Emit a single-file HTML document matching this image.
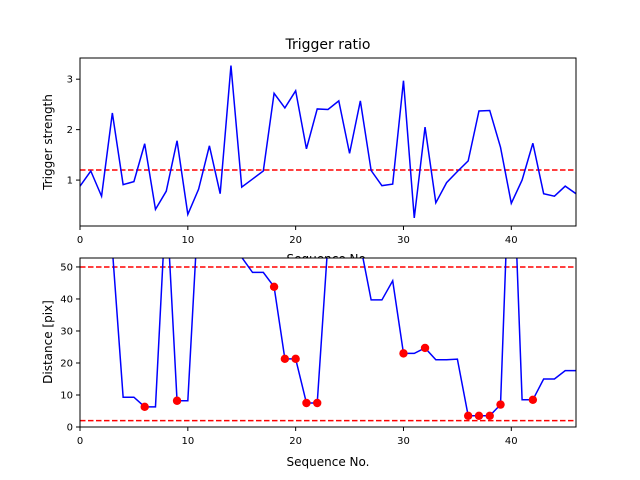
<!DOCTYPE html>
<html><head><meta charset="utf-8"><style>body{margin:0;background:#fff}svg{display:block;font-family:"DejaVu Sans","Liberation Sans",sans-serif}</style></head>
<body>
<svg id="c" width="640" height="480"></svg>
<script>
const seq = Array.from({length:47},(_,i)=>i);
const strength = [0.88,1.18,0.68,2.33,0.91,0.97,1.72,0.42,0.78,1.78,0.32,0.82,1.68,0.73,3.27,0.86,1.02,1.18,2.72,2.43,2.77,1.62,2.41,2.40,2.57,1.53,2.57,1.19,0.89,0.92,2.97,0.25,2.05,0.55,0.95,1.17,1.38,2.37,2.38,1.65,0.54,1.00,1.73,0.73,0.68,0.88,0.73];
const strengthThreshold = 1.2;
const distance = [80,80,80,55.6,9.3,9.3,6.3,6.3,72,8.2,8.2,70,100,100,100,53,48.3,48.3,43.8,21.3,21.3,7.5,7.5,58,80,80,57,39.7,39.7,45.7,23,23,24.7,21,21,21.2,3.5,3.5,3.5,7,100,8.5,8.5,15,15,17.6,17.6];
const markedIdx = [6,9,18,19,20,21,22,30,32,36,37,38,39,42];
const distLines = [50,2];
const xTicks = [0,10,20,30,40];
const topYTicks = [1,2,3];
const botYTicks = [0,10,20,30,40,50];

const NS="http://www.w3.org/2000/svg", svg=document.getElementById('c');
function el(t,a,p){const e=document.createElementNS(NS,t);for(const k in a)e.setAttribute(k,a[k]);(p||svg).appendChild(e);return e;}
const L=80,R=576;
const xs=v=>L+(v-0)/46*(R-L);
function panel(top,bot,ymin,ymax,name){
  const ys=v=>bot-(v-ymin)/(ymax-ymin)*(bot-top);
  const g=el('g',{});
  el('rect',{x:L,y:top,width:R-L,height:bot-top,fill:'#fff'},g);
  const cid='clip'+name;const cp=el('clipPath',{id:cid},g);el('rect',{x:L,y:top,width:R-L,height:bot-top},cp);
  const inner=el('g',{'clip-path':'url(#'+cid+')'},g);
  return {g,inner,ys,top,bot};
}
function axes(p,yt,name){
  const f=el('rect',{x:L,y:p.top,width:R-L,height:p.bot-p.top,fill:'none',stroke:'#000','stroke-width':1},p.g);
  
  xTicks.forEach(t=>{const x=xs(t);el('line',{x1:x,x2:x,y1:p.bot,y2:p.bot+4,stroke:'#000'},p.g);
    const tx=el('text',{x:x,y:p.bot+17,'font-size':10,'text-anchor':'middle'},p.g);tx.textContent=t;
    });
  yt.forEach(t=>{const y=p.ys(t);el('line',{x1:L-4,x2:L,y1:y,y2:y,stroke:'#000'},p.g);
    const tx=el('text',{x:L-7,y:y+3.5,'font-size':10,'text-anchor':'end'},p.g);tx.textContent=t;
    });
}
// top
const T=panel(58,226,0.09,3.42,'top-panel');
let hl=el('line',{x1:L,x2:R,y1:T.ys(strengthThreshold),y2:T.ys(strengthThreshold),stroke:'#f00','stroke-width':1.5,'stroke-dasharray':'5.5,2.5'},T.inner);

let pl=el('polyline',{points:seq.map((s,i)=>xs(s)+','+T.ys(strength[i])).join(' '),fill:'none',stroke:'#00f','stroke-width':1.5},T.inner);

axes(T,topYTicks,'top');
let t=el('text',{x:328,y:49,'font-size':14,'text-anchor':'middle'});t.textContent='Trigger ratio';

t=el('text',{x:52,y:142,'font-size':12,'text-anchor':'middle',transform:'rotate(-90 52 142)'});t.textContent='Trigger strength';

// bottom
const B=panel(258,427,0,52.8,'bottom-panel');
distLines.forEach(v=>{const l=el('line',{x1:L,x2:R,y1:B.ys(v),y2:B.ys(v),stroke:'#f00','stroke-width':1.5,'stroke-dasharray':'5.5,2.5'},B.inner);
  });
pl=el('polyline',{points:seq.map((s,i)=>xs(s)+','+B.ys(distance[i])).join(' '),fill:'none',stroke:'#00f','stroke-width':1.5},B.inner);

markedIdx.forEach(i=>{const c=el('circle',{cx:xs(seq[i]),cy:B.ys(distance[i]),r:4.2,fill:'#f00'},B.inner);
  });
axes(B,botYTicks,'bottom');
// the top panel's x-axis title pokes out above the bottom panel
const pc=el('clipPath',{id:'peek'});el('rect',{x:0,y:0,width:640,height:258},pc);
t=el('text',{x:328,y:263,'font-size':12,'text-anchor':'middle','clip-path':'url(#peek)'});t.textContent='Sequence No.';

t=el('text',{x:328,y:466,'font-size':12,'text-anchor':'middle'});t.textContent='Sequence No.';

t=el('text',{x:52,y:342,'font-size':12,'text-anchor':'middle',transform:'rotate(-90 52 342)'});t.textContent='Distance [pix]';

</script>
</body></html>
